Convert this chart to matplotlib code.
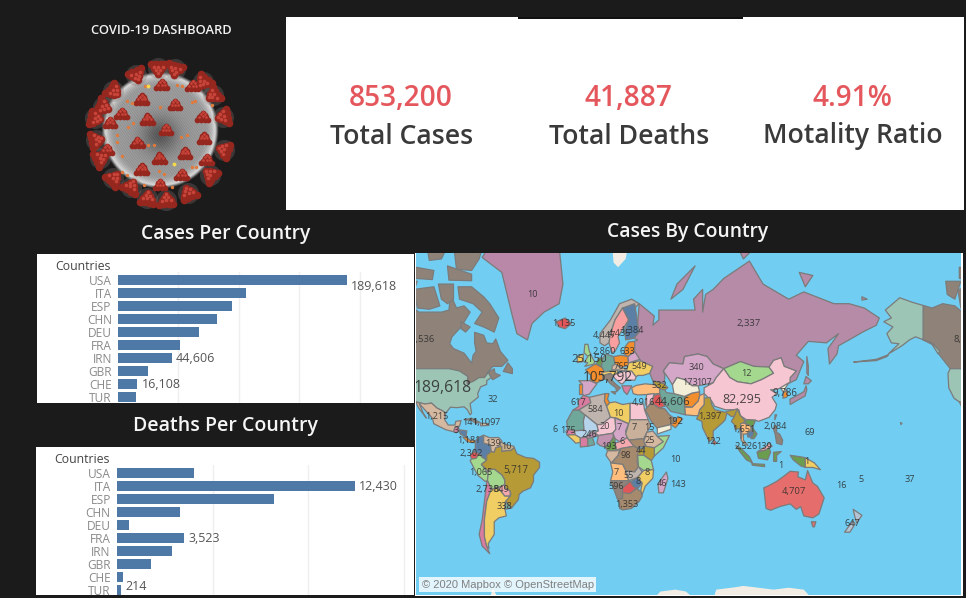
import numpy as np
import matplotlib
matplotlib.use("Agg")
import matplotlib.pyplot as plt
from matplotlib.patches import Rectangle

W, H = 966, 598
DARK = "#1b1b1b"
FONT = "Open Sans"
plt.rcParams["font.family"] = [FONT, "DejaVu Sans"]

# ---------- data ----------
kpi_values = ["853,200", "41,887", "4.91%"]
kpi_names = ["Total Cases", "Total Deaths", "Motality Ratio"]
countries = ["USA", "ITA", "ESP", "CHN", "DEU", "FRA", "IRN", "GBR", "CHE", "TUR"]
cases = [189618, 105792, 94417, 82295, 67051, 51477, 44606, 25150, 16108, 15000]
deaths = [4024, 12430, 8189, 3309, 645, 3523, 2898, 1789, 300, 214]
cases_labelled = {"USA": (4, 6), "IRN": (4, 0.5), "CHE": (4, 0.5)}
deaths_labelled = {"ITA": (4, 1), "FRA": (4, 0.5), "TUR": (4, -4)}

C_GRAY, C_TEAL, C_MAUVE = "#8f8379", "#9cc5b5", "#b58ba8"
C_TL, C_LM, C_ORANGE = "#6fa89b", "#d4a6c8", "#f28e2b"
C_YEL, C_PEACH, C_PINK = "#f1ce63", "#ffbe7d", "#f6c7d3"
C_LG, C_GOLD, C_BROWN = "#a3d88e", "#b59a35", "#a58a6d"
C_BLUE, C_RED, C_TAN = "#5b7fa5", "#e15759", "#d5b8a0"
C_GREEN, C_BEIGE, C_ROSE = "#6b9d4f", "#bfb4ae", "#d97ca0"

shapes = [
 (C_GRAY, [(-141,69.6),(-135,69),(-128,70),(-120,69.5),(-115,68),(-108,68),(-100,68),(-95,68.5),(-94,72),(-90,69),(-85,69.5),(-81,68),(-87,64),(-93,61),(-94.5,58.7),(-92,57),(-85,55.3),(-82,53),(-80,51.3),(-79,54.5),(-77,56),(-78,59),(-78,62.4),(-72,61.5),(-70,59),(-66,58.7),(-64,60.3),(-61,56),(-56,52.5),(-60,50),(-66,50),(-70,47),(-65,49),(-64.5,47),(-61,46),(-66,44),(-67,45),(-69,47.3),(-71.5,45),(-75,45),(-79,43.2),(-83,42),(-82.5,45.5),(-88,48),(-95,49),(-123,49),(-130,54.5),(-135,58.5),(-141,60)]),
 (C_GRAY, [(-80,73.5),(-72,71.5),(-68,70),(-62,66.5),(-65,62.5),(-72,64),(-78,65),(-73,68),(-79,70),(-88,71),(-89,73.5)]),
 (C_GRAY, [(-118,73),(-105,73.5),(-101,69.5),(-108,68.7),(-116,69)]),
 (C_GRAY, [(-92,80),(-72,80),(-75,78),(-80,76.3),(-90,76.5)]),
 (C_GRAY, [(-126,74.5),(-116,74.5),(-120,71),(-125,72)]),
 (C_GRAY, [(-96,77),(-80,75.7),(-80,74.6),(-95,74.7)]),
 (C_GRAY, [(-117,76.8),(-105,76.3),(-106,74.8),(-117,75)]),
 (C_GRAY, [(-102,74),(-92,74),(-92,71),(-96,70),(-100,71)]),
 (C_GRAY, [(-110,80),(-95,80),(-100,78),(-108,77.8)]),
 (C_GRAY, [(-87,65.5),(-81,64),(-84,62.5),(-87,63.5)]),
 (C_GRAY, [(-59,47.8),(-53,46.8),(-53,49),(-56,51.5)]),
 (C_TEAL, [(-141,69.6),(-148,70.3),(-156.5,71.3),(-166,68.5),(-162,66.5),(-167,65.5),(-161,64),(-165,62),(-162,59),(-157,58.7),(-164,55),(-155,58),(-150,60),(-146,61),(-139,59.7),(-135,58.5),(-131,55),(-130,56),(-135,59),(-141,60)]),
 (C_TEAL, [(-164,54.7),(-172,52.9),(-187,51.8),(-172,52.4),(-165,54)]),
 (C_TEAL, [(-156,20.3),(-155,19.8),(-155.6,19)]),
 (C_TEAL, [(-123,49),(-95,49),(-88,48),(-82.5,45.5),(-83,42),(-79,43.2),(-75,45),(-71.5,45),(-69,47.3),(-67,45),(-70,43.5),(-70,41.7),(-74,40.5),(-76,37),(-75.5,35.2),(-81,31.5),(-80,26),(-81,25),(-82.8,28),(-85,29.7),(-90,29.2),(-94,29.5),(-97.2,26),(-99.5,27.5),(-103,29),(-106.5,31.8),(-111,31.3),(-117,32.5),(-120.5,34.5),(-124,40),(-124.5,47)]),
 (C_TAN, [(-117,32.5),(-111,31.3),(-106.5,31.8),(-103,29),(-99.5,27.5),(-97.2,26),(-97.8,22),(-95.5,18.7),(-91,18.7),(-90.5,21),(-87,21.5),(-88,18),(-91,17),(-92,14.5),(-97,15.7),(-105,19.5),(-106,23),(-112,29),(-114.8,31.7),(-112,26),(-110,23),(-115,29)]),
 (C_ROSE, [(-92,14.5),(-91,17),(-89,18),(-88.3,15.7),(-90,13.8)]),
 (C_BLUE, [(-88.3,15.7),(-83.2,15),(-83.7,11),(-87.5,13)]),
 (C_ORANGE, [(-85.8,11),(-83.7,11),(-81,9),(-77.5,8.6),(-78,7.4),(-81,7.5),(-83,8.2)]),
 (C_GRAY, [(-85,22),(-80,23),(-74.2,20.2),(-77.5,19.9),(-80,21.7)]),
 (C_TAN, [(-74,19.8),(-69,19.7),(-68.5,18.5),(-74,18.2)]),
 (C_BLUE, [(-77.5,8.6),(-75,11),(-72,12.2),(-72,7),(-67.5,6),(-67,1.5),(-70,-1),(-70,-4.2),(-73,-2.3),(-75,0),(-78.8,1.4),(-77.5,4)]),
 (C_TAN, [(-72,12.2),(-68,10.6),(-62,10.7),(-60,8.5),(-61,5),(-64,4),(-65,1),(-67,1.5),(-67.5,6),(-72,7)]),
 ("#c9b08a", [(-61,8),(-57,6),(-52,5),(-51.7,4),(-54,2.2),(-57,2),(-60,1.5),(-61,5)]),
 (C_RED, [(-80.9,-1),(-78.8,1.4),(-75,0),(-77,-3),(-80,-3.5)]),
 (C_LG, [(-81,-4.5),(-80,-3.5),(-77,-3),(-75,0),(-73,-2.3),(-70,-4.2),(-73.5,-7),(-70.5,-11),(-69,-13),(-69.5,-17.5),(-71,-18),(-76,-14)]),
 (C_LG, [(-69.5,-10.9),(-65,-10),(-60,-13.7),(-58,-17),(-58,-20),(-62.5,-22),(-67,-22.8),(-69.5,-17.5),(-69,-13)]),
 (C_GOLD, [(-60,5),(-60,1.5),(-57,2),(-54,2.2),(-51.7,4),(-50,0),(-44,-2.5),(-39,-3),(-35,-5.5),(-35,-9),(-39,-14),(-39,-18),(-41,-22),(-46,-24),(-48.5,-26),(-49,-29),(-53.5,-33.7),(-57.5,-30),(-54,-26),(-54.5,-24),(-58,-22),(-58,-17),(-60,-13.7),(-65,-10),(-69.5,-10.9),(-73.5,-7),(-70,-4.2),(-70,-1),(-67,1.5),(-65,1),(-64,4)]),
 ("#f4a9ae", [(-62.5,-22),(-58,-20),(-58,-22),(-54.5,-24),(-54.5,-27),(-58,-27)]),
 (C_ROSE, [(-70,-18),(-69.5,-17.5),(-67,-22.8),(-70,-30),(-71.5,-40),(-71.5,-48),(-70,-52),(-68,-55),(-73,-52),(-75,-47),(-73,-40),(-71.5,-30)]),
 (C_YEL, [(-67,-22.8),(-62.5,-22),(-58,-27),(-54.5,-27),(-57.5,-30),(-58,-34),(-57,-38),(-62,-39),(-65,-41),(-65,-47),(-69,-51),(-68.5,-53),(-70,-52),(-71.5,-48),(-71.5,-40),(-70,-30)]),
 (C_TL, [(-57.5,-30),(-53.5,-33.7),(-58,-34.5)]),
 ("#b987a8", [(-73,78.2),(-60,82),(-30,83.5),(-22,79.5),(-19.5,74),(-22,70),(-32,68),(-40,65),(-43,60),(-50,62),(-53,67),(-55,70),(-60,76)]),
 (C_RED, [(-24,65.5),(-18,66.5),(-14,65),(-18,63.5),(-22,64)]),
 (C_BEIGE, [(5,59),(5,62),(12,66),(18,70),(26,71),(31,70),(28,69),(20,69),(15,66),(12,62),(11,59),(8,58)]),
 ("#fa9f9f", [(11,59),(12,62),(15,66),(20,69),(24,66),(21,64),(17,61),(18,59),(15,56),(13,55.5)]),
 (C_BLUE, [(24,66),(20,69),(28,70),(30,65),(31,62.5),(27,60.5),(22,60),(21.5,63)]),
 (C_LG, [(-5,58.5),(-3,58.5),(-2,56),(0,53.5),(1.5,52),(1,51),(-5,50),(-3,51.5),(-5,52),(-3,54),(-5.5,55.5)]),
 (C_YEL, [(-10,54),(-6,55),(-6,52),(-10,51.6)]),
 (C_ORANGE, [(-4.5,48.5),(2,51),(8,49),(7,44),(3,42.5),(-1.5,43.5),(-1,46)]),
 (C_LM, [(-9,43.5),(-1.5,43.5),(3,42),(0,39),(-2,36.7),(-5.5,36),(-7,37),(-7,42)]),
 (C_ORANGE, [(-9,42),(-7,42),(-7,37),(-9,37)]),
 (C_GREEN, [(2.5,51),(4,53.4),(7,53.4),(6,50)]),
 (C_TL, [(6,50),(7,53.5),(9,55),(14,54),(15,51),(13,48),(8,47.6)]),
 (C_ORANGE, [(14,54),(19,54.5),(23.5,54),(24,50.5),(19,49.5),(15,51)]),
 (C_GRAY, [(7,44),(7,46),(12,47),(13.5,46),(12.5,44),(16,41.5),(18.5,40),(16,38),(15.5,40),(12,42),(9,44.3)]),
 (C_GRAY, [(12.5,38),(15.5,38),(15,36.7)]),
 (C_YEL, [(6,47),(8,47.6),(13,48),(17,48.5),(16,46.7),(13.5,46),(12,47),(7,46)]),
 (C_TAN, [(13,50),(15,51),(19,49.5),(22,49),(21,48),(17,48.5),(13,48.5)]),
 (C_PINK, [(13.5,46),(16,46.7),(22,48),(22.5,44),(20,42),(19,42),(15,44.5)]),
 (C_PINK, [(22,48),(26,48),(29,45.3),(28,43.7),(22.5,44)]),
 (C_ROSE, [(19.5,41),(26,41),(24,38),(23,36.5),(21,38)]),
 (C_YEL, [(24,51.5),(32,52.3),(40,50),(38,47),(33.5,46),(30,46),(29,45.3),(26,48),(22.5,48)]),
 (C_LM, [(23.5,54),(28,56),(32,53),(24,51.5)]),
 (C_ORANGE, [(21,55),(21.5,57.5),(24,59.3),(28,59.5),(28,56),(23.5,54)]),
 (C_PEACH, [(26,40),(29,41.2),(35,42),(41.5,41.5),(44.8,39.5),(44.5,37),(36,36.5),(30,36.3),(27,37)]),
 (C_MAUVE, [(31,70),(41,67),(40,64.5),(44,66),(44,68.5),(54,68.5),(68,68.5),(67,71),(73,73),(73,68),(75,72),(80,73),(87,75),(104,77.7),(113,74),(130,71),(140,72.5),(160,70),(170,70),(180,69),(190,66.5),(188,64.5),(179,62.5),(170,60),(163,58),(162,55),(157,51),(156,57),(163,62),(155,59),(143,59.5),(135,54.5),(140,52),(135,44),(130.8,42.5),(131,45),(135,48),(127,50),(125,53.5),(120,52.5),(117,49.7),(107,50),(98,52),(87,49),(80,51),(76,54),(70,55),(61,54),(60,51),(51,51.5),(47,48),(48,46),(47.5,42),(40,43.5),(38,47),(40,50),(32,52.3),(28,56),(28,59.5),(30,60),(27.5,60.5),(31,62.5),(30,65)]),
 (C_MAUVE, [(142,54),(143,50),(143,46),(142,47)]),
 (C_MAUVE, [(52,71),(56,74),(68,77),(60,73)]),
 (C_MAUVE, [(137,76),(146,75.5),(141,73.5)]),
 (C_MAUVE, [(178.5,71.5),(182,71),(178.5,70.8)]),
 (C_MAUVE, [(95,80),(105,79),(100,78)]),
 (C_LM, [(47,48),(51,51.5),(60,51),(61,54),(70,55),(76,54),(80,51),(87,49),(82,45),(80,42.5),(70,41),(66,41),(61,44),(56,45),(53,41.5),(50,45)]),
 (C_LG, [(87,49),(98,52),(107,50),(117,49.7),(120,47),(112,44),(105,42),(96,43),(91,45)]),
 (C_PINK, [(80,42.5),(82,45),(87,49),(91,45),(96,43),(105,42),(112,44),(120,47),(117,49.7),(120,52.5),(125,53.5),(127,50),(135,48),(131,45),(130.8,42.5),(125,40),(121,39),(118,39),(122,37),(119,35),(122,31),(121,28),(117,23.5),(110,21),(108,21.7),(102,22),(98,24.5),(97,28),(88,28),(81,30),(79,33),(74,37),(74,40)]),
 (C_GOLD, [(74,34.5),(78,35),(79,31),(81,28),(88,26.5),(89,27),(96,28.5),(94,24),(92,24),(89,26),(88,22),(86,20),(80,15),(80,10),(77.5,8),(73,17),(72.5,21),(69,22.5),(70,24.5),(71,28),(74,31)]),
 (C_RED, [(80,9.5),(82,7.5),(81,6),(80,7)]),
 (C_PEACH, [(61,29.5),(66,29.5),(70,33),(71,36),(74,37),(74,31),(71,28),(70,24.5),(67,24.5),(61.5,25)]),
 (C_ORANGE, [(61,30),(61,35),(66,37.3),(71,38),(71,36),(70,33),(66,29.5)]),
 (C_TL, [(44.5,39.5),(48,39),(49,37.5),(54,37),(61,36.5),(61,30),(61.5,25),(57,26),(52,27),(49,30),(46,33),(44.5,37)]),
 ("#f3eed8", [(53,41.5),(56,45),(61,44),(66,41),(70,41),(71,38),(66,37.3),(61,35.5),(54,37)]),
 (C_RED, [(44.5,37),(46,33),(48,30),(44,29),(39,32),(41,36)]),
 (C_PINK, [(36,36.5),(41,37),(39,32),(36,29.5),(35,32)]),
 (C_BROWN, [(35,28),(39,32),(44,29),(48,28.5),(51,25),(55.5,22),(52,19),(44,17),(43,16.5),(39,21)]),
 ("#f3eed8", [(43,13),(43,17),(52,19),(52,16)]),
 (C_ORANGE, [(52,19),(55.5,22),(56.5,24),(59.8,22.5),(55,17)]),
 (C_GOLD, [(40,43.5),(47.5,42),(50,40),(48,39),(44.8,39.5),(41.5,41.5)]),
 (C_ROSE, [(-13,27.7),(-9,30),(-9.5,33),(-6,36),(-2,35),(-1,32),(-8.7,28),(-8.7,27.7)]),
 (C_TL, [(-17,21),(-13,27.7),(-8.7,27.7),(-5,25),(-6,21),(-5.5,15.5),(-12,15),(-16.5,16)]),
 (C_BEIGE, [(-8.7,27.7),(-8.7,28),(-1,32),(-2,35),(8.5,37),(8,33),(9.5,30),(12,23.5),(6,19),(3,19),(-5,25)]),
 (C_ORANGE, [(8.5,37),(11,37),(10,34),(11.5,32),(9.5,30),(8,33)]),
 (C_YEL, [(9.5,30),(11.5,32),(15,32.5),(20,31),(25,31.7),(25,20),(24,19.5),(16,23),(12,23.5)]),
 (C_PINK, [(25,31.7),(34,31.2),(34.5,28),(37,22),(25,22)]),
 ("#b5d3eb", [(-12,15),(-5.5,15.5),(-6,21),(-5,25),(3,19),(4,15),(0,15),(-4,11),(-8,10.5),(-11.5,12.5)]),
 (C_PINK, [(3,19),(6,19),(12,23.5),(15,23),(15.5,16),(13.5,13.5),(4,12),(1,13.5),(4,15)]),
 (C_LM, [(15,23),(24,19.5),(22,15),(23,10.5),(18,8),(15,10),(13.5,13.5),(15.5,16)]),
 ("#c9b09a", [(24,19.5),(25,22),(37,22),(38.5,18),(36,14),(34,10),(24,9),(22,13)]),
 (C_BROWN, [(24,9),(34,10),(35,5),(28,4)]),
 (C_TAN, [(36,14),(40,15),(43,11.5),(47,8),(42,4),(36,4.5),(34,8)]),
 (C_LG, [(43,11.5),(51,12),(47,4),(41,-1.5),(41,4),(47,8)]),
 (C_GOLD, [(35,5),(41,4),(41,-1.5),(39,-4.5),(34,-1),(34,4)]),
 (C_ROSE, [(-17.5,14.7),(-16.5,16),(-12,15),(-11.5,12.5),(-16.8,12.4)]),
 (C_YEL, [(-16.8,12.4),(-11.5,12.5),(-8,10.5),(-8,7.5),(-11,7),(-13.5,9.5)]),
 (C_ROSE, [(-8,10.5),(-4,11),(-2.8,9),(-3,5),(-8,4.5)]),
 (C_TL, [(-3,11),(0,11),(1.5,6),(-3,5)]),
 (C_MAUVE, [(-4,11),(0,15),(4,12),(1,11),(-3,10)]),
 ("#c193b0", [(3,7),(4,12),(13.5,13.5),(14,11),(11,6.5),(8,4.5),(5,5.5)]),
 (C_GREEN, [(8.7,4.5),(11,6.5),(14,11),(15,10),(15,7),(16,2),(10,2)]),
 ("#f4a9ae", [(15,7),(18,8),(23,10.5),(27.5,5),(19,3.5),(16,2.5)]),
 (C_BROWN, [(19,3.5),(27.5,5),(31,3),(29.5,-5),(30.5,-8.5),(28,-12),(22,-11),(20,-7),(12.5,-6),(17,-1)]),
 (C_TAN, [(10,2),(16,2),(18,3),(17,-1),(12.5,-6),(9,-1)]),
 (C_GOLD, [(29.5,-2),(31,3),(34,4),(34,-1)]),
 (C_LG, [(30,-1),(34,-1),(39,-4.5),(40.5,-10.5),(34,-11),(30.5,-8.5)]),
 (C_PEACH, [(12,-6),(20,-7),(22,-11),(24,-17.5),(12,-17.5),(13.5,-12)]),
 (C_BEIGE, [(22,-11),(28,-12),(30.5,-8.5),(33,-12),(30,-15.5),(24,-17.5)]),
 (C_BLUE, [(25.5,-18),(30,-15.5),(33,-19),(30,-22.5),(27,-21)]),
 (C_YEL, [(34,-11),(40.5,-10.5),(40,-16),(35,-21),(33,-26),(32,-24),(33,-19),(30,-15.5),(33,-12)]),
 (C_GRAY, [(12,-17.5),(24,-17.5),(25,-18),(20,-22),(20,-28.5),(16.5,-28.5)]),
 (C_RED, [(20,-22),(25,-18),(27,-21),(29,-22.5),(25,-25.5),(20,-26)]),
 (C_BROWN, [(16.5,-28.5),(20,-28.5),(20,-25),(25,-25.5),(29,-22.5),(32,-24),(33,-27),(31,-30),(26,-34),(20,-34.8),(18,-34),(18,-31)]),
 (C_LM, [(49,-12),(50,-16),(47,-25),(44,-25),(43.5,-20),(46,-16)]),
 (C_GOLD, [(92,21),(94,24),(96,28.5),(98,24.5),(101,21.5),(98,17),(98.5,10),(97.5,16.5),(94.5,16),(94,19)]),
 (C_PEACH, [(98,19.5),(100,20),(105,18),(105,15),(102,13),(100,13),(100,9),(103,5.5),(100.5,6.5),(98.5,9),(99,14)]),
 (C_GREEN, [(102,22),(108,21.7),(106,17),(109,13),(107,10),(105,10),(106,14),(105,18),(101,20)]),
 (C_BLUE, [(102.5,13.5),(105,15),(107,14),(106,11),(103,11)]),
 (C_GREEN, [(95,5.5),(98,4),(104,-2),(106,-6),(102,-4),(98,1)]),
 (C_GREEN, [(105.5,-6.5),(114,-7),(114,-8.5),(106,-7.5)]),
 ("#f4a9ae", [(109.5,1.5),(115,5),(117,7),(119,5),(117,4),(115,2.5)]),
 (C_GREEN, [(109,1),(115,2.5),(117,4),(118,1),(116,-4),(110,-3)]),
 (C_GREEN, [(120,1),(125,1.5),(122,-1),(122,-5),(120,-5)]),
 (C_GREEN, [(131,-1),(138,-2),(141,-2.6),(141,-9),(138,-8),(133,-4)]),
 (C_YEL, [(141,-2.6),(147,-6),(151,-10.5),(146,-9),(141,-9)]),
 (C_GRAY, [(120.5,18.5),(122,18),(122,14),(124,13),(126,9),(125.5,6),(122,7),(121,13),(120,16)]),
 (C_GRAY, [(121,25),(122,25),(120.8,22)]),
 (C_MAUVE, [(130.8,34),(135,35.7),(140,38),(141.5,41),(142,39),(140.8,35.7),(136,33.5),(131,31)]),
 (C_MAUVE, [(140,42),(141.5,45.5),(145,43.5),(143,42)]),
 (C_ORANGE, [(126.2,34.5),(126.6,37.7),(128.5,38.5),(129.5,36),(128.5,35)]),
 ("#f3eed8", [(124.5,40),(130,42.5),(127.5,39.5),(128.5,38.5),(126.6,37.7)]),
 ("#e56e6c", [(113.5,-22),(114,-26),(115,-34),(118,-35),(124,-33),(131,-31.5),(135,-34.5),(138,-33),(140,-38),(146,-39),(150,-37),(153.5,-28),(149,-21),(146,-19),(142.5,-11),(141,-17),(136,-15),(136.5,-12),(131,-11.5),(127,-14.5),(122,-18),(116,-21)]),
 ("#e56e6c", [(145,-41),(148,-41),(147,-43.5),(146,-43.5)]),
 ("#b4c4d4", [(172.7,-34.5),(178.5,-37.7),(175,-41.5),(174,-39)]),
 ("#b4c4d4", [(172.5,-40.7),(174,-42),(170.5,-46),(167,-46),(170,-43)]),
]
ice_shapes = [
 [(80,-69),(82,-66.5),(88,-66.2),(94,-65.9),(100,-65.5),(110,-66),(120,-66.5),(130,-66),(140,-66.5),(146,-69)],
 [(40,-69),(45,-67),(55,-66.5),(62,-67),(68,-69)],
 [(-68,-69),(-66,-66),(-62,-69)],
 [(13,80),(14,77.5),(17,76.8),(22,78),(24,80)],
]
map_labels = [
 ("10",-40,72,6.6),("1,135",-19,65,6.6),("8,536",-112.5,60,6.8),("189,618",-99,40,11.3),("32",-66,34,6.6),
 ("1,215",-103,24,6.6),("141",-81,20,6.6),("1,109",-72,20,6.6),("7",-63,20,6.6),("3",-90,15,6.6),("1,181",-82,9,6.6),
 ("139",-66,7,6.6),("10",-57,5,6.6),("2,302",-80,0,6.6),("1,065",-74,-12,6.6),("5,717",-51,-11,7),
 ("2,738",-70,-23,6.6),("849",-60,-23,6.6),("338",-58,-33,6.6),("6",-25,16,6.6),("175",-16,15,6.6),("617",-9,32,6.6),
 ("584",2,28,6.6),("10",17,26,6.6),("4,916",34,32,6.6),("20",8.5,18,6.6),("7",18,17,6.6),("7",28,17,6.6),("15",37.5,17,6.6),
 ("246",-2,13,6.6),("193",11,5,6.6),("6",20,8,6.6),("25",38,9,6.6),("44",32,2.5,6.6),("98",22,-1,6.6),("10",55,-4,6.6),
 ("7",16,-12,6.6),("55",24,-14,6.6),("8",30,-18,6.6),("8",36,-12,6.6),("46",46,-19,6.6),("143",57,-20,6.6),("596",16,-21,6.6),
 ("1,353",23,-32,6.6),("4,435",18,62,6.6),("4,447",8,61.5,6.6),("1,384",26,63,6.6),("2,860",8,56,6.6),("25,150",-2,53,8.2),
 ("105,792",10.3,45,9.8),("549",31,50,6.6),("633",23,56,6.6),("765",19,50,6.6),("532",44,41,6.6),("44,606",53.4,32,8.2),
 ("192",55,21,6.6),("340",68.6,49.6,6.6),("2,337",103.7,65,6.8),("12",102,47,6.6),("82,295",99,34,9),("173",64.6,42.5,6.6),
 ("107",74,42.5,6.6),("1,397",78,24,6.6),("122",80,8,6.6),("1,651",100,16,6.6),("9,786",127.5,37,7),("2,084",121,18,6.6),
 ("69",144,14,6.6),("2,526",101.7,5,6.6),("139",113.7,5,6.6),("1",125,-8,6.6),("1",142,-5,6.6),("4,707",133.5,-24,6.8),
 ("16",164.6,-20.5,6.6),("5",178,-17,6.6),("37",210,-17,6.6),("647",172,-42,6.6),
]

surface_spikes = [(305,225),(245,268),(345,285),(262,328),(318,360),(428,320),(432,385),(232,398),(375,430),(298,445),(245,478),(365,495),(300,525),(150,338),(185,312),(398,228),(440,450),(140,420)]
rim_spikes = [(295,175),(345,178),(228,195),(160,243),(128,290),(105,325),(108,390),(120,445),(160,505),(212,530),(262,565),(318,570),(385,550),(450,495),(492,420),(490,320),(460,255),(430,215)]
orange_dots = [(205,350),(220,338),(300,292),(172,375),(170,395),(265,405),(282,405),(380,375),(362,382),(395,275),(200,495),(185,485),(255,228),(350,225),(365,228),(200,272),(215,278),(405,272),(457,285),(186,438),(312,492),(298,483),(395,470),(408,472),(252,525),(335,530)]
yellow_dots = [(265,228),(343,463)]
lobes = [(0,-13),(-5,-6),(6,-6),(-11,2),(0,1),(11,2),(-17,11),(-6,10),(6,10),(17,11)]


# ---------- helpers ----------
def axpx(fig, x0, y0, x1, y1, **kw):
    return fig.add_axes([x0 / W, 1 - y1 / H, (x1 - x0) / W, (y1 - y0) / H], **kw)


def ftext(x, y, s, **kw):
    kw.setdefault("ha", "center")
    kw.setdefault("va", "center")
    fig.text(x / W, 1 - y / H, s, **kw)


def frect(x0, y0, x1, y1, color, zorder=0):
    fig.add_artist(Rectangle((x0 / W, 1 - y1 / H), (x1 - x0) / W, (y1 - y0) / H,
                             transform=fig.transFigure, fc=color, ec="none", zorder=zorder))


fig = plt.figure(figsize=(W / 100, H / 100), dpi=100, facecolor=DARK)

# ---------- KPI panel ----------
frect(286, 17, 964, 210, "white")
frect(518, 17, 743, 18.5, "#111111", 1)
for x, xn, v, n in zip([400.5, 628.5, 852.5], [401.5, 629.5, 852.5], kpi_values, kpi_names):
    ftext(x, 98.5, v, color="#e4575c", fontsize=20.2, fontweight=600)
    ftext(xn, 136.5, n, color="#3a3a3a", fontsize=19.2, fontweight=600)

# ---------- titles ----------
ftext(161, 30, "COVID-19 DASHBOARD", color="#f2f2f2", fontsize=9.3, fontweight=600)
ftext(225.5, 233.5, "Cases Per Country", color="#f5f5f5", fontsize=13.9, fontweight=600)
ftext(225.5, 426.5, "Deaths Per Country", color="#f5f5f5", fontsize=14, fontweight=600)
ftext(688, 232.5, "Cases By Country", color="#f5f5f5", fontsize=13.9, fontweight=600)


# ---------- bars ----------
def bars(values, labelled, panel, plot_left, first_center, step, xmax):
    px0, py0, px1, py1 = panel
    frect(px0, py0, px1, py1, "white")
    ax = axpx(fig, plot_left, first_center - 8, px1, py1)
    ax.patch.set_alpha(0)
    ax.barh(countries, values, height=10 / 13, color="#4e79a7", zorder=2)
    ax.set_xlim(0, xmax)
    ax.set_ylim((py1 - first_center) / 13, -8 / 13)
    ax.set_xticks(np.arange(step, xmax, step))
    ax.tick_params(axis="x", length=0, labelbottom=False)
    ax.tick_params(axis="y", length=0, pad=4.5, labelsize=8.6, labelcolor="#8a8a8a")
    ax.grid(axis="x", color="#efefef", lw=1, zorder=0)
    for s in ax.spines.values():
        s.set_visible(False)
    for c, v in zip(countries, values):
        if c in labelled:
            dx, dy = labelled[c]
            ax.annotate(f"{v:,}", (v, c), xytext=(dx * 0.72, -dy * 0.72), textcoords="offset points",
                        ha="left", va="center", fontsize=9, color="#555555", annotation_clip=False)
    ftext(plot_left - 7, first_center - 13.5, "Countries", ha="right", color="#444444", fontsize=8.8)


bars(cases, cases_labelled, (37, 254, 414, 403), 118, 280, 50000, 296 / (229 / 189618))
bars(deaths, deaths_labelled, (36, 447, 414, 595), 117, 473, 5000, 297 / (238 / 12430))

# ---------- map ----------
frect(415, 253, 962.5, 596, "white")
K = 86.5
Y0 = 453.8


def merc(lat):
    return np.log(np.tan(np.pi / 4 + np.radians(np.clip(lat, -85, 85)) / 2))


def imerc(m):
    return np.degrees(2 * np.arctan(np.exp(m)) - np.pi / 2)


mp = axpx(fig, 416, 253, 961, 595, facecolor="#71cdf1")
mp.set_yscale("function", functions=(merc, imerc))
for col, poly in shapes:
    lon, lat = zip(*poly)
    for shift in (0, 360):
        mp.fill(np.array(lon) + shift, lat, fc=col, ec="#7b7b7b", lw=0.9, zorder=2, joinstyle="round")
for poly in ice_shapes:
    lon, lat = zip(*poly)
    mp.fill(lon, lat, fc="#f1ede4", ec="none", zorder=2)
mp.set_xlim((416 - 592.4) / 1.51, (961 - 592.4) / 1.51)
mp.set_ylim(imerc((Y0 - 595) / K), imerc((Y0 - 253) / K))
mp.set_xticks([])
mp.set_yticks([])
mp.minorticks_off()
mp.tick_params(which="both", length=0, labelleft=False)
for s in mp.spines.values():
    s.set_visible(False)
for txt, lon, lat, fs in map_labels:
    for shift in (0, 360):
        if -125 < lon + shift < 260:
            mp.text(lon + shift, lat, txt, ha="center", va="center", fontsize=fs, color="#2b2b2b",
                    alpha=0.85, clip_on=True, zorder=4)
ftext(422.5, 585, "© 2020 Mapbox © OpenStreetMap", ha="left", fontsize=8, color="#808080",
      family="Liberation Sans", zorder=6)
frect(419, 577, 596, 592, (1, 1, 1, 0.8), 5)
frect(414, 253, 415, 273, "#222222", 6)

# ---------- virus illustration ----------
vx = axpx(fig, 80, 55, 240, 210)
cx, cy, R = 300, 360, 172
gx, gy = np.meshgrid(np.arange(60, 540, 1.0), np.arange(135, 600, 1.0))
rr = np.hypot(gx - cx, gy - cy) / R
tex = (np.sin(gx * 1.31 + gy * 0.47) * np.sin(gy * 1.13 - gx * 0.59)
       + np.sin(gx * 0.83 - gy * 1.07 + 2) * np.sin(gx * 0.37 + gy * 1.71)) * 0.17
edge = np.clip((rr - 0.78) / 0.2, 0, 1) ** 2
shade = 0.60 + tex * (1 - edge) + 0.33 * edge - 0.25 * np.exp(-((gx - 300) ** 2 + (gy - 375) ** 2) / 3000)
alpha = np.clip((1.02 - rr) * 16, 0, 1)
img = np.dstack([np.clip(shade, 0, 1)] * 3 + [alpha])
vx.imshow(img, extent=(60, 540, 600, 135), interpolation="bilinear", zorder=1, aspect="auto")
vx.set_xlim(60, 540)
vx.set_ylim(600, 135)
vx.axis("off")
for pts, scale, size in ((rim_spikes, 1.25, 30), (surface_spikes, 0.95, 17)):
    for sx, sy in pts:
        rot = np.arctan2(sy - cy, sx - cx) - np.pi / 2 if pts is rim_spikes else 0.0
        if pts is rim_spikes:
            vx.scatter([sx], [sy], s=230, color="#7f7573", alpha=0.32, linewidths=0, zorder=2)
        xs = [sx + scale * (a * np.cos(rot) - b * np.sin(rot)) for a, b in lobes]
        ys = [sy + scale * (a * np.sin(rot) + b * np.cos(rot)) for a, b in lobes]
        vx.scatter(xs, ys, s=size, color="#96271f", linewidths=0, zorder=3)
        vx.scatter(xs[:6], [y - 2 for y in ys[:6]], s=size * 0.22, color="#c7443a", linewidths=0, zorder=4)
vx.scatter(*zip(*orange_dots), s=6, color="#e07a3c", linewidths=0, zorder=5)
vx.scatter(*zip(*yellow_dots), s=8, color="#f5d84a", linewidths=0, zorder=5)

fig.savefig("out.png", dpi=100, facecolor=fig.get_facecolor())
